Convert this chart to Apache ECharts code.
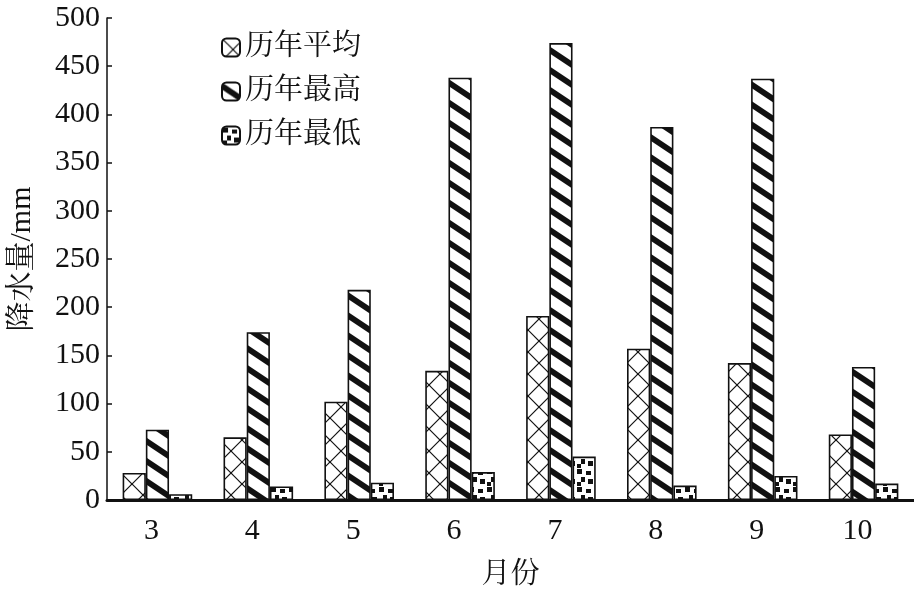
<!DOCTYPE html>
<html><head><meta charset="utf-8">
<script src="https://cdn.jsdelivr.net/npm/echarts@6/dist/echarts.min.js"></script>
<style>html,body{margin:0;padding:0;background:#fff}#c{width:914px;height:590px}</style>
</head><body><div id="c"></div>
<script>
const months = ['3','4','5','6','7','8','9','10'];
const avgVals = [28, 65, 102, 134, 191, 157, 142, 68];
const maxVals = [73, 174, 218, 438, 474, 387, 437, 138];
const minVals = [6, 14, 18, 29, 45, 15, 25, 17];
const yTicks = [0, 50, 100, 150, 200, 250, 300, 350, 400, 450, 500];

const FONT = "'Liberation Serif','Noto Serif CJK SC','Noto Sans CJK SC',serif";

function mk(w, h, draw) {
  const c = document.createElement('canvas');
  c.width = w; c.height = h;
  const g = c.getContext('2d');
  g.fillStyle = '#fff'; g.fillRect(0, 0, w, h);
  g.fillStyle = '#111'; g.strokeStyle = '#111';
  draw(g, w, h);
  return c;
}
const crossPat = mk(22, 22, (g, w, h) => {
  g.lineWidth = 1.2;
  for (let k = -1; k <= 1; k++) {
    g.beginPath(); g.moveTo(k * w, 0); g.lineTo(k * w + w, h); g.stroke();
    g.beginPath(); g.moveTo(k * w + w, 0); g.lineTo(k * w, h); g.stroke();
  }
});
const stripePat = mk(30, 20, (g, w, h) => {
  for (let k = -2; k <= 1; k++) {
    g.beginPath();
    g.moveTo(0, k * h); g.lineTo(w, k * h + h); g.lineTo(w, k * h + h + 7); g.lineTo(0, k * h + 7);
    g.closePath(); g.fill();
  }
});
const dotPat = mk(18, 18, (g) => {
  [[1,1,5,5],[10,3,5,4],[5,9,4,5],[12,11,5,5],[1,14,4,4]].forEach(r => g.fillRect(r[0], r[1], r[2], r[3]));
});

function ser(name, data, pat) {
  return {
    name, type: 'bar', data, barGap: '0%', barCategoryGap: '31%',
    itemStyle: { color: { image: pat, repeat: 'repeat' }, borderColor: '#111', borderWidth: 1.6 },
    emphasis: { disabled: true }
  };
}

const chart = echarts.init(document.getElementById('c'), null, { renderer: 'canvas' });
chart.setOption({
  animation: false,
  backgroundColor: '#fff',
  textStyle: { fontFamily: FONT },
  grid: { left: 107, right: 0, top: 18, bottom: 90, containLabel: false, outerBoundsMode: 'none' },
  legend: {
    orient: 'vertical', left: 221, top: 33, padding: 0, itemWidth: 18, itemHeight: 18, itemGap: 15,
    textStyle: { fontFamily: FONT, fontSize: 29, color: '#111' },
    data: ['历年平均', '历年最高', '历年最低']
  },
  xAxis: {
    type: 'category', data: months,
    name: '月份', nameLocation: 'middle', nameGap: 61,
    nameTextStyle: { fontFamily: FONT, fontSize: 29, color: '#111' },
    axisLine: { lineStyle: { color: '#111', width: 3 } },
    axisTick: { show: false },
    axisLabel: { fontFamily: FONT, fontSize: 30, color: '#111', margin: 16, padding: [0, 12, 0, 0] }
  },
  yAxis: {
    type: 'value', min: yTicks[0], max: yTicks[yTicks.length - 1], interval: 50,
    name: '降水量/mm', nameLocation: 'middle', nameGap: 70,
    nameTextStyle: { fontFamily: FONT, fontSize: 30, color: '#111' },
    axisLine: { show: true, lineStyle: { color: '#111', width: 1.5 } },
    axisTick: { show: true, inside: true, length: 5, lineStyle: { color: '#111', width: 1.5 } },
    splitLine: { show: false },
    axisLabel: { fontFamily: FONT, fontSize: 30, color: '#111', margin: 7 }
  },
  series: [
    ser('历年平均', avgVals, crossPat),
    ser('历年最高', maxVals, stripePat),
    ser('历年最低', minVals, dotPat)
  ]
});
</script></body></html>
